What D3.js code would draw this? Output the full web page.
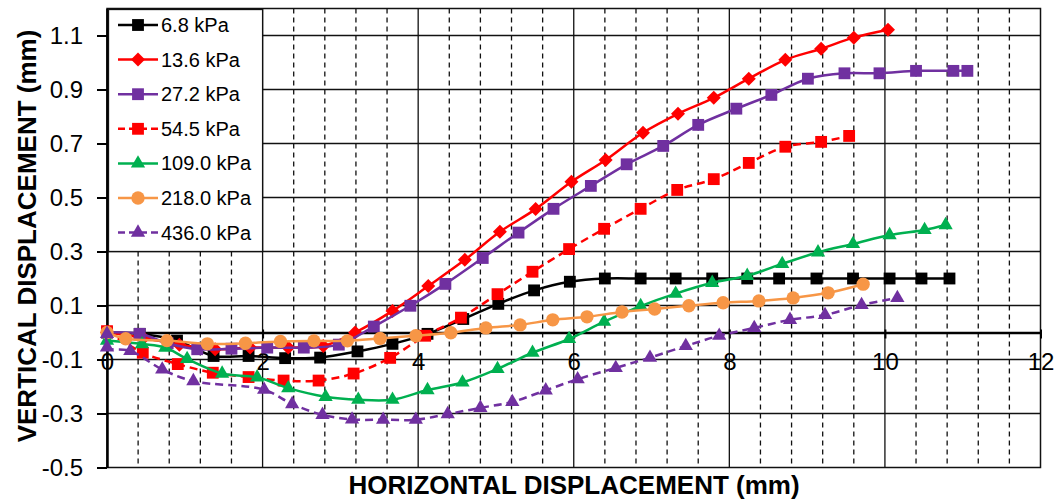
<!DOCTYPE html>
<html>
<head>
<meta charset="utf-8">
<script src="https://cdn.jsdelivr.net/npm/d3@7"></script>
<style>
  body { margin: 0; background: #fff; }
  text { font-family: "Liberation Sans", Arial, sans-serif; }
</style>
</head>
<body>
<script>
// tick values
const xTicks = [0, 2, 4, 6, 8, 10, 12];
const yTicks = [-0.5, -0.3, -0.1, 0.1, 0.3, 0.5, 0.7, 0.9, 1.1];

// series (horizontal mm, vertical mm)
const names = ["6.8 kPa", "13.6 kPa", "27.2 kPa", "54.5 kPa", "109.0 kPa", "218.0 kPa", "436.0 kPa"];

const x6_8 = [0, 0.42, 0.9, 1.37, 1.82, 2.29, 2.74, 3.22, 3.67, 4.12, 4.58, 5.03, 5.49, 5.95, 6.40, 6.86, 7.31, 7.78, 8.23, 8.64, 9.12, 9.59, 10.06, 10.47, 10.83];
const y6_8 = [0, -0.005, -0.03, -0.087, -0.087, -0.095, -0.093, -0.07, -0.042, -0.005, 0.05, 0.106, 0.156, 0.188, 0.2, 0.2, 0.2, 0.2, 0.2, 0.2, 0.2, 0.2, 0.2, 0.2, 0.2];

const x13_6 = [0, 0.47, 0.93, 1.39, 1.84, 2.33, 2.78, 3.19, 3.67, 4.13, 4.60, 5.05, 5.51, 5.97, 6.41, 6.89, 7.34, 7.80, 8.25, 8.72, 9.18, 9.60, 10.04];
const y13_6 = [0, -0.02, -0.045, -0.062, -0.056, -0.056, -0.05, 0.0, 0.08, 0.172, 0.269, 0.373, 0.457, 0.558, 0.639, 0.740, 0.810, 0.869, 0.940, 1.010, 1.051, 1.092, 1.121];

const x27_2 = [0, 0.42, 0.78, 1.16, 1.6, 2.06, 2.53, 2.98, 3.43, 3.90, 4.35, 4.83, 5.29, 5.74, 6.22, 6.68, 7.15, 7.60, 8.09, 8.54, 9.01, 9.48, 9.93, 10.40, 10.88, 11.06];
const y27_2 = [0, -0.005, -0.04, -0.062, -0.06, -0.056, -0.056, -0.045, 0.022, 0.099, 0.180, 0.276, 0.370, 0.458, 0.543, 0.623, 0.691, 0.769, 0.829, 0.880, 0.940, 0.960, 0.960, 0.969, 0.969, 0.969];

const x54_5 = [0, 0.46, 0.91, 1.36, 1.82, 2.27, 2.72, 3.17, 3.64, 4.09, 4.55, 5.02, 5.47, 5.94, 6.39, 6.86, 7.33, 7.80, 8.25, 8.72, 9.18, 9.54];
const y54_5 = [0.005, -0.075, -0.117, -0.149, -0.165, -0.178, -0.178, -0.152, -0.094, -0.012, 0.055, 0.142, 0.225, 0.309, 0.384, 0.458, 0.528, 0.568, 0.628, 0.688, 0.706, 0.728];

const x109 = [0, 0.45, 0.75, 1.03, 1.48, 1.93, 2.33, 2.81, 3.23, 3.67, 4.12, 4.57, 5.02, 5.47, 5.94, 6.39, 6.86, 7.31, 7.78, 8.23, 8.68, 9.14, 9.59, 10.06, 10.51, 10.78];
const y109 = [-0.03, -0.043, -0.056, -0.098, -0.152, -0.166, -0.206, -0.238, -0.249, -0.249, -0.213, -0.185, -0.135, -0.075, -0.024, 0.040, 0.098, 0.144, 0.184, 0.210, 0.254, 0.297, 0.328, 0.361, 0.380, 0.398];

const x218 = [0, 0.24, 0.77, 1.29, 1.78, 2.23, 2.66, 3.09, 3.51, 3.97, 4.42, 4.87, 5.31, 5.73, 6.17, 6.62, 7.04, 7.48, 7.92, 8.38, 8.82, 9.27, 9.72];
const y218 = [0, -0.023, -0.03, -0.042, -0.04, -0.033, -0.031, -0.031, -0.022, -0.012, -0.001, 0.017, 0.028, 0.047, 0.058, 0.076, 0.087, 0.099, 0.110, 0.117, 0.128, 0.147, 0.179];

const x436 = [0, 0, 0.3, 0.71, 1.11, 2.02, 2.38, 2.77, 3.15, 3.55, 3.97, 4.38, 4.80, 5.21, 5.64, 6.05, 6.54, 6.98, 7.44, 7.87, 8.32, 8.78, 9.23, 9.70, 10.16];
const y436 = [-0.005, -0.055, -0.068, -0.137, -0.18, -0.212, -0.265, -0.305, -0.322, -0.323, -0.323, -0.302, -0.279, -0.257, -0.214, -0.173, -0.131, -0.093, -0.050, -0.012, 0.017, 0.047, 0.065, 0.102, 0.128];

const xs = [x6_8, x13_6, x27_2, x54_5, x109, x218, x436];
const ys = [y6_8, y13_6, y27_2, y54_5, y109, y218, y436];

// styling
const colors = ["#000000", "#ff0000", "#7030a0", "#ff0000", "#00b050", "#f79646", "#7030a0"];
const markers = ["square", "diamond", "square", "square", "triangle", "circle", "triangle"];
const dashed = [false, false, false, true, false, false, true];

const W = 1055, H = 504;
const pLeft = 107, pRight = 1040.5, pTop = 8.5, pBottom = 467.5;

const svg = d3.select("body").append("svg")
  .attr("width", W)
  .attr("height", H);

svg.append("rect").attr("width", W).attr("height", H).attr("fill", "#fff");

const x = d3.scaleLinear().domain([0, 12]).range([pLeft, pRight]);
const y = d3.scaleLinear().domain([-0.5, 1.2]).range([pBottom, pTop]);

// grid
const grid = svg.append("g");
const minor = d3.range(0, 12.001, 0.4).filter(v => Math.abs(v / 2 - Math.round(v / 2)) > 0.01);
grid.selectAll(".minor")
  .data(minor)
  .join("line")
  .attr("x1", d => x(d)).attr("x2", d => x(d))
  .attr("y1", pTop).attr("y2", pBottom)
  .attr("stroke", "#111").attr("stroke-width", 1.3)
  .attr("stroke-dasharray", "5,4");
grid.selectAll(".major")
  .data([2, 4, 6, 8, 10])
  .join("line")
  .attr("x1", d => x(d)).attr("x2", d => x(d))
  .attr("y1", pTop).attr("y2", pBottom)
  .attr("stroke", "#111").attr("stroke-width", 1.3);
grid.selectAll(".hgrid")
  .data(yTicks.filter(v => v > -0.5))
  .join("line")
  .attr("x1", pLeft).attr("x2", pRight)
  .attr("y1", d => y(d)).attr("y2", d => y(d))
  .attr("stroke", "#111").attr("stroke-width", 1.3);
// plot border
svg.append("rect")
  .attr("x", pLeft).attr("y", pTop)
  .attr("width", pRight - pLeft).attr("height", pBottom - pTop)
  .attr("fill", "none").attr("stroke", "#111").attr("stroke-width", 1.5);

// y axis
const yAxis = svg.append("g")
  .attr("transform", `translate(${pLeft},0)`)
  .call(d3.axisLeft(y).tickValues(yTicks).tickSizeInner(10).tickSizeOuter(0).tickPadding(14));
yAxis.select(".domain").attr("stroke", "#000").attr("stroke-width", 2.5);
yAxis.selectAll(".tick line").attr("stroke", "#000").attr("stroke-width", 2);
yAxis.selectAll("text")
  .attr("font-size", 24).attr("fill", "#000")
  .attr("font-family", "Liberation Sans, Arial, sans-serif")
  .text(d => d.toFixed(1));

// x axis at y = 0
const xAxis = svg.append("g")
  .attr("transform", `translate(0,${y(0)})`)
  .call(d3.axisBottom(x).tickValues(xTicks).tickSizeInner(6).tickSizeOuter(0).tickPadding(14).tickFormat(d3.format("d")));
xAxis.select(".domain").attr("stroke", "#000").attr("stroke-width", 2.5);
xAxis.selectAll(".tick line").attr("stroke", "#000").attr("stroke-width", 2).attr("y1", -3);
xAxis.selectAll("text")
  .attr("font-size", 24).attr("fill", "#000")
  .attr("font-family", "Liberation Sans, Arial, sans-serif");

// series
function markerPath(type) {
  if (type === "square") return d3.symbol(d3.symbolSquare, 140)();
  if (type === "triangle") return d3.symbol(d3.symbolTriangle, 88)();
  if (type === "circle") return d3.symbol(d3.symbolCircle, 140)();
  const r = 7;
  return `M0,${-r}L${r},0L0,${r}L${-r},0Z`;
}

const line = d3.line()
  .x(d => x(d[0]))
  .y(d => y(d[1]))
  .curve(d3.curveCatmullRom.alpha(0.5));

names.forEach((name, i) => {
  const pts = xs[i].map((v, j) => [v, ys[i][j]]);
  const g = svg.append("g");
  g.append("path")
    .datum(pts)
    .attr("d", line)
    .attr("fill", "none")
    .attr("stroke", colors[i])
    .attr("stroke-width", 2.5)
    .attr("stroke-dasharray", dashed[i] ? "8,5" : null);
  g.selectAll("path.mk")
    .data(pts)
    .join("path")
    .attr("class", "mk")
    .attr("d", markerPath(markers[i]))
    .attr("transform", d => `translate(${x(d[0])},${y(d[1])})`)
    .attr("fill", colors[i]);
});

// legend
const legend = svg.append("g");
legend.append("rect")
  .attr("x", pLeft + 1.5).attr("y", pTop + 1)
  .attr("width", x(2) - pLeft - 1.5).attr("height", y(0.3) - pTop - 1)
  .attr("fill", "#fff").attr("stroke", "#111").attr("stroke-width", 1.3);
names.forEach((name, i) => {
  const cy = 25 + i * 34.6;
  legend.append("line")
    .attr("x1", 118).attr("x2", 158)
    .attr("y1", cy).attr("y2", cy)
    .attr("stroke", colors[i]).attr("stroke-width", 2.5)
    .attr("stroke-dasharray", dashed[i] ? "7,4" : null);
  legend.append("path")
    .attr("d", markerPath(markers[i]))
    .attr("transform", `translate(138,${cy})`)
    .attr("fill", colors[i]);
  legend.append("text")
    .attr("x", 161).attr("y", cy)
    .attr("dy", "0.35em")
    .attr("font-size", 20)
    .attr("fill", "#000")
    .text(name);
});

// axis titles
svg.append("text")
  .attr("x", 574).attr("y", 494)
  .attr("text-anchor", "middle")
  .attr("font-size", 26).attr("font-weight", "bold")
  .text("HORIZONTAL DISPLACEMENT (mm)");
svg.append("text")
  .attr("transform", "translate(36,236) rotate(-90)")
  .attr("text-anchor", "middle")
  .attr("font-size", 26).attr("font-weight", "bold")
  .text("VERTICAL DISPLACEMENT (mm)");
</script>
</body>
</html>
